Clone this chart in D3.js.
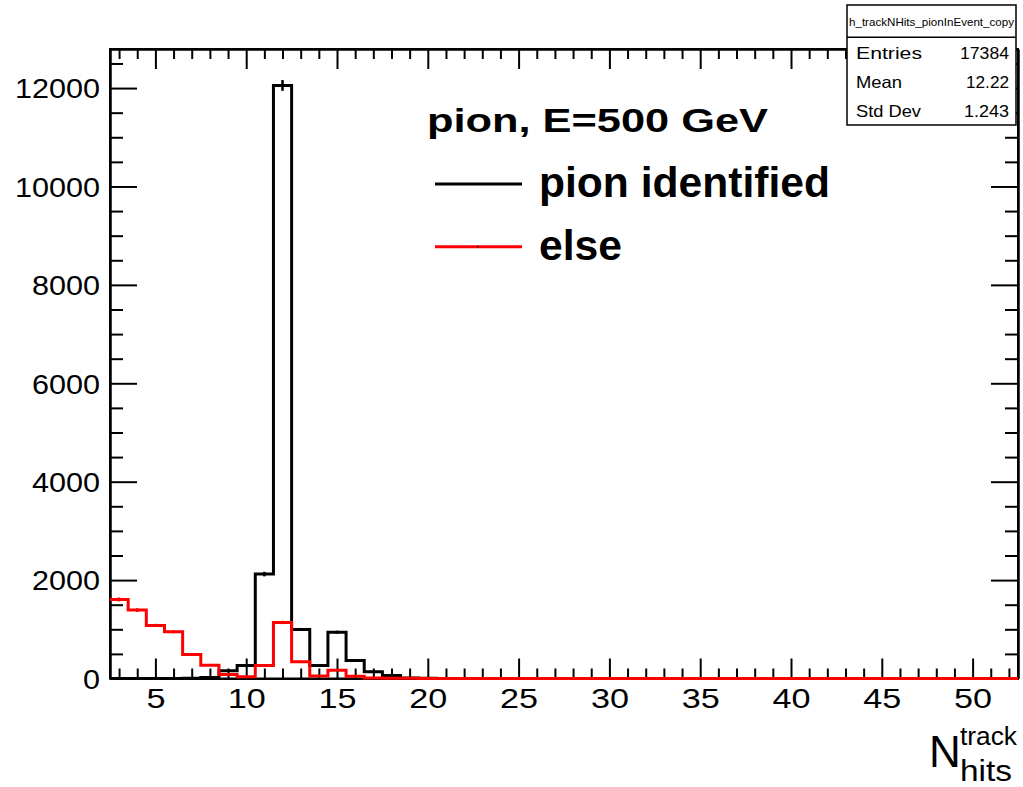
<!DOCTYPE html>
<html>
<head>
<meta charset="utf-8">
<script src="https://cdn.jsdelivr.net/npm/d3@7/dist/d3.min.js"></script>
<style>
  html, body { margin: 0; padding: 0; background: #fff; }
  svg { display: block; font-family: "Liberation Sans", Arial, Helvetica, sans-serif; }
</style>
</head>
<body>
<svg id="chart" width="1023" height="787"></svg>
<script>
// ---- Data (bin centers 3..52, bin width 1) ----
const binCenters = d3.range(3, 53);
const pionIdentified = [
  0, 0, 0, 1, 4, 20, 156, 264, 2122, 12054,
  997, 264, 942, 366, 136, 61, 8, 3, 1, 0,
  0, 0, 0, 0, 0, 0, 0, 0, 0, 0,
  0, 0, 0, 0, 0, 0, 0, 0, 0, 0,
  0, 0, 0, 0, 0, 0, 0, 0, 0, 0
];
const elseHits = [
  1607, 1390, 1078, 949, 488, 271, 81, 34, 264, 1139,
  340, 52, 168, 45, 12, 5, 3, 2, 1, 0,
  0, 0, 0, 0, 0, 0, 0, 0, 0, 0,
  0, 0, 0, 0, 0, 0, 0, 0, 0, 0,
  0, 0, 0, 0, 0, 0, 0, 0, 0, 0
];
const xMajorTicks = [5, 10, 15, 20, 25, 30, 35, 40, 45, 50];
const yMajorTicks = [0, 2000, 4000, 6000, 8000, 10000, 12000];
const statsLabels = ["Entries", "Mean", "Std Dev"];
const statsValues = ["17384", "12.22", "1.243"];
const histName = "h_trackNHits_pionInEvent_copy";
const legendHeader = "pion, E=500 GeV";
const legendEntries = ["pion identified", "else"];
const seriesColors = ["#000000", "#ff0000"];

// ---- Layout ----
const L = 110, R = 1018, T = 49, B = 678.5;
const xDomain = [2.5, 52.5], yDomain = [0, 12794];

const svg = d3.select("#chart");
const x = d3.scaleLinear().domain(xDomain).range([L, R]);
const y = d3.scaleLinear().domain(yDomain).range([B, T]);

const xMinor = d3.range(3, 53).filter(v => v % 5 !== 0);
const yMinor = d3.range(500, 12794, 500).filter(v => v % 2000 !== 0);

function styleAxis(g) {
  g.selectAll("path.domain").attr("stroke", "#000").attr("stroke-width", 2);
  g.selectAll(".tick line").attr("stroke", "#000").attr("stroke-width", 2);
}

// Bottom axis (major with labels)
const gxb = svg.append("g").attr("transform", `translate(0,${B})`)
  .call(d3.axisBottom(x).tickValues(xMajorTicks).tickSize(-20).tickSizeOuter(0).tickFormat(d3.format("d")));
gxb.selectAll("text")
  .attr("y", 29.8).attr("dy", null)
  .attr("font-size", 28).attr("fill", "#000")
  .attr("font-family", '"Liberation Sans", Arial, Helvetica, sans-serif')
  .attr("textLength", d => String(d).length * 19)
  .attr("lengthAdjust", "spacingAndGlyphs");
styleAxis(gxb);
const gxbm = svg.append("g").attr("transform", `translate(0,${B})`)
  .call(d3.axisBottom(x).tickValues(xMinor).tickSize(-10).tickSizeOuter(0).tickFormat(""));
styleAxis(gxbm);

// Top axis (ticks only)
const gxt = svg.append("g").attr("transform", `translate(0,${T})`)
  .call(d3.axisTop(x).tickValues(xMajorTicks).tickSize(-20).tickSizeOuter(0).tickFormat(""));
styleAxis(gxt);
const gxtm = svg.append("g").attr("transform", `translate(0,${T})`)
  .call(d3.axisTop(x).tickValues(xMinor).tickSize(-10).tickSizeOuter(0).tickFormat(""));
styleAxis(gxtm);

// Left axis (labels)
const gyl = svg.append("g").attr("transform", `translate(${L},0)`)
  .call(d3.axisLeft(y).tickValues(yMajorTicks).tickSize(-27).tickSizeOuter(0).tickPadding(10).tickFormat(d3.format("d")));
gyl.selectAll("text")
  .attr("x", -10).attr("dy", "0.36em")
  .attr("font-size", 27).attr("fill", "#000")
  .attr("font-family", '"Liberation Sans", Arial, Helvetica, sans-serif')
  .attr("textLength", d => String(d).length * 17)
  .attr("lengthAdjust", "spacingAndGlyphs");
styleAxis(gyl);
const gylm = svg.append("g").attr("transform", `translate(${L},0)`)
  .call(d3.axisLeft(y).tickValues(yMinor).tickSize(-13).tickSizeOuter(0).tickFormat(""));
styleAxis(gylm);

// Right axis (ticks only)
const gyr = svg.append("g").attr("transform", `translate(${R},0)`)
  .call(d3.axisRight(y).tickValues(yMajorTicks).tickSize(-27).tickSizeOuter(0).tickFormat(""));
styleAxis(gyr);
const gyrm = svg.append("g").attr("transform", `translate(${R},0)`)
  .call(d3.axisRight(y).tickValues(yMinor).tickSize(-13).tickSizeOuter(0).tickFormat(""));
styleAxis(gyrm);

// Frame
svg.append("rect").attr("x", L).attr("y", T).attr("width", R - L).attr("height", B - T)
  .attr("fill", "none").attr("stroke", "#000").attr("stroke-width", 2);

// ---- Histograms ----
const stepLine = d3.line().x(d => x(d[0])).y(d => y(d[1])).curve(d3.curveStepAfter);
function drawHist(values, color) {
  const pts = binCenters.map((c, i) => [c - 0.5, values[i]]);
  pts.push([binCenters[binCenters.length - 1] + 0.5, values[values.length - 1]]);
  svg.append("path").datum(pts)
    .attr("d", stepLine)
    .attr("fill", "none").attr("stroke", color).attr("stroke-width", 3)
    .attr("stroke-linejoin", "miter");
  // error bars
  svg.append("g").selectAll("line").data(binCenters.map((c, i) => [c, values[i]]).filter(d => d[1] > 0))
    .join("line")
    .attr("x1", d => x(d[0])).attr("x2", d => x(d[0]))
    .attr("y1", d => y(d[1] - Math.sqrt(d[1]))).attr("y2", d => y(d[1] + Math.sqrt(d[1])))
    .attr("stroke", color).attr("stroke-width", 2.5);
}
drawHist(pionIdentified, seriesColors[0]);
drawHist(elseHits, seriesColors[1]);

// ---- Legend ----
svg.append("text").attr("x", 427).attr("y", 132)
  .attr("font-size", 34).attr("font-weight", "bold")
  .attr("textLength", 341).attr("lengthAdjust", "spacingAndGlyphs")
  .text(legendHeader);
const legY = [184, 246.7];
const legTextY = [196.7, 260];
const legLen = [291, 83];
legendEntries.forEach((t, i) => {
  svg.append("line").attr("x1", 435).attr("x2", 522).attr("y1", legY[i]).attr("y2", legY[i])
    .attr("stroke", seriesColors[i]).attr("stroke-width", 3);
  svg.append("text").attr("x", 539).attr("y", legTextY[i])
    .attr("font-size", 42).attr("font-weight", "bold")
    .attr("textLength", legLen[i]).attr("lengthAdjust", "spacingAndGlyphs")
    .text(t);
});
svg.append("rect").attr("x", 477).attr("y", legY[1] - 0.75).attr("width", 1.5).attr("height", 1.5).attr("fill", "#000");

// ---- Stats box ----
const sb = { x0: 847, x1: 1016, y0: 5, y1: 125, div: 37.3 };
svg.append("rect").attr("x", sb.x0).attr("y", sb.y0).attr("width", sb.x1 - sb.x0).attr("height", sb.y1 - sb.y0)
  .attr("fill", "#fff").attr("stroke", "#000").attr("stroke-width", 1.5);
svg.append("line").attr("x1", sb.x0).attr("x2", sb.x1).attr("y1", sb.div).attr("y2", sb.div)
  .attr("stroke", "#000").attr("stroke-width", 1.5);
svg.append("text").attr("x", (sb.x0 + sb.x1) / 2).attr("y", 26).attr("text-anchor", "middle")
  .attr("font-size", 11.5).attr("textLength", 165).attr("lengthAdjust", "spacingAndGlyphs")
  .text(histName);
const statY = [59.3, 88.3, 116.7];
const statLabLen = [66, 46, 65];
const statValLen = [49, 43, 45];
statsLabels.forEach((t, i) => {
  svg.append("text").attr("x", 856).attr("y", statY[i]).attr("font-size", 16.5)
    .attr("textLength", statLabLen[i]).attr("lengthAdjust", "spacingAndGlyphs").text(t);
  svg.append("text").attr("x", 1009).attr("y", statY[i]).attr("font-size", 16.5).attr("text-anchor", "end")
    .attr("textLength", statValLen[i]).attr("lengthAdjust", "spacingAndGlyphs").text(statsValues[i]);
});

// ---- Axis title N_hits^track ----
svg.append("text").attr("x", 929).attr("y", 767).attr("font-size", 44).text("N");
svg.append("text").attr("x", 960).attr("y", 745).attr("font-size", 25)
  .attr("textLength", 57).attr("lengthAdjust", "spacingAndGlyphs").text("track");
svg.append("text").attr("x", 960).attr("y", 781).attr("font-size", 30)
  .attr("textLength", 52).attr("lengthAdjust", "spacingAndGlyphs").text("hits");
</script>
</body>
</html>
